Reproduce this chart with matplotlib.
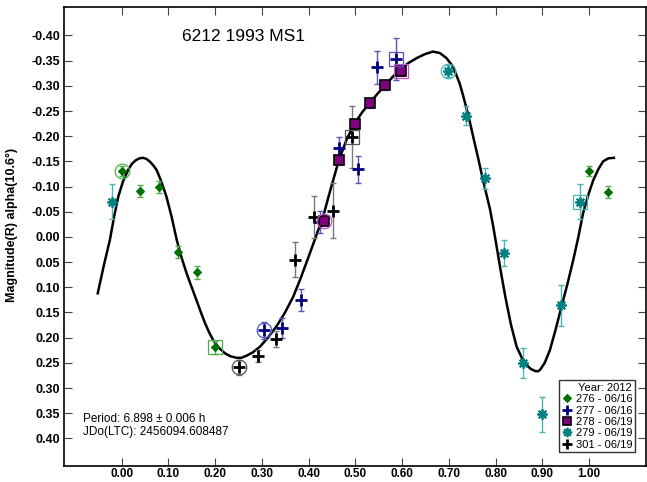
import matplotlib
matplotlib.use("Agg")
import matplotlib.pyplot as plt
from matplotlib.lines import Line2D

plt.rcParams["font.family"] = ["Liberation Sans", "DejaVu Sans"]
plt.rcParams["axes.unicode_minus"] = False

# session 276 - 06/16
x276 = [0.0, 0.04, 0.08, 0.12, 0.161, 0.20, 1.0, 1.04]
y276 = [-0.13, -0.091, -0.10, 0.03, 0.07, 0.219, -0.13, -0.09]
e276 = [0.01, 0.012, 0.012, 0.012, 0.013, 0.013, 0.01, 0.012]

# session 277 - 06/16
x277 = [0.304, 0.343, 0.383, 0.424, 0.465, 0.506, 0.547, 0.588]
y277 = [0.185, 0.180, 0.125, -0.030, -0.176, -0.134, -0.337, -0.353]
e277 = [0.017, 0.02, 0.022, 0.022, 0.022, 0.027, 0.033, 0.041]

# session 278 - 06/19
x278 = [0.433, 0.466, 0.499, 0.531, 0.564, 0.597]
y278 = [-0.032, -0.152, -0.225, -0.265, -0.301, -0.330]
e278 = [0.01, 0.01, 0.01, 0.01, 0.01, 0.01]

# session 279 - 06/19
x279 = [-0.02, 0.698, 0.736, 0.778, 0.818, 0.859, 0.899, 0.939, 0.98]
y279 = [-0.07, -0.33, -0.241, -0.116, 0.032, 0.25, 0.352, 0.136, -0.07]
e279 = [0.035, 0.012, 0.018, 0.02, 0.025, 0.03, 0.035, 0.04, 0.035]

# session 301 - 06/19
x301 = [0.2515, 0.291, 0.331, 0.372, 0.411, 0.4525, 0.492]
y301 = [0.259, 0.236, 0.203, 0.045, -0.040, -0.052, -0.198]
e301 = [0.015, 0.012, 0.016, 0.034, 0.042, 0.055, 0.061]

# fitted curve
curve_x = [-0.051, -0.038, -0.025, -0.016, -0.007, 0.003, 0.014, 0.022, 0.030,
           0.038, 0.046, 0.053, 0.060, 0.067, 0.075, 0.085, 0.096, 0.107,
           0.118, 0.128, 0.139, 0.150, 0.160, 0.169, 0.178, 0.187, 0.196,
           0.208, 0.221, 0.233, 0.246, 0.256, 0.267, 0.281, 0.296, 0.313,
           0.331, 0.349, 0.367, 0.383, 0.399, 0.415, 0.431, 0.448, 0.465,
           0.482, 0.499, 0.515, 0.531, 0.548, 0.565, 0.580, 0.595, 0.613,
           0.631, 0.649, 0.666, 0.681, 0.695, 0.709, 0.723, 0.731, 0.742,
           0.752, 0.763, 0.773, 0.781, 0.788, 0.795, 0.802, 0.811, 0.821,
           0.833, 0.845, 0.856, 0.866, 0.875, 0.884, 0.890, 0.895, 0.905,
           0.916, 0.928, 0.941, 0.954, 0.966, 0.977, 0.987, 0.998, 1.009,
           1.020, 1.030, 1.041, 1.053]
curve_y = [0.112, 0.057, 0.006, -0.040, -0.080, -0.110, -0.133, -0.145, -0.152,
           -0.156, -0.157, -0.155, -0.150, -0.143, -0.133, -0.110, -0.080, -0.040,
           0.006, 0.040, 0.072, 0.100, 0.125, 0.148, 0.170, 0.189, 0.205,
           0.220, 0.231, 0.237, 0.240, 0.240, 0.236, 0.229, 0.218, 0.200,
           0.178, 0.151, 0.119, 0.082, 0.042, 0.001, -0.040, -0.098, -0.153,
           -0.195, -0.226, -0.248, -0.266, -0.285, -0.302, -0.318, -0.332, -0.345,
           -0.355, -0.363, -0.368, -0.365, -0.355, -0.338, -0.305, -0.279, -0.240,
           -0.199, -0.155, -0.113, -0.082, -0.055, -0.020, 0.018, 0.068, 0.120,
           0.175, 0.218, 0.240, 0.254, 0.262, 0.266, 0.267, 0.264, 0.250,
           0.225, 0.185, 0.138, 0.092, 0.046, 0.000, -0.047, -0.083, -0.113,
           -0.135, -0.150, -0.156, -0.157]

x_ticks = [0.0, 0.1, 0.2, 0.3, 0.4, 0.5, 0.6, 0.7, 0.8, 0.9, 1.0]
y_ticks = [-0.40, -0.35, -0.30, -0.25, -0.20, -0.15, -0.10, -0.05,
           0.00, 0.05, 0.10, 0.15, 0.20, 0.25, 0.30, 0.35, 0.40]

# label, x, y, err, marker, size, edge width, face, edge, errcolor, ringcolor, first idx, last idx
sessions = [
    ("276 - 06/16", x276, y276, e276, "D", 4.5, 0.8, "#007000", "#007000", "#4caf4c", "#4caf4c", 0, 5),
    ("277 - 06/16", x277, y277, e277, "+", 8, 2.0, "#000080", "#000080", "#5555bb", "#5555bb", 0, 7),
    ("278 - 06/19", x278, y278, e278, "s", 7, 1.2, "#800080", "#000000", "#cc66cc", "#cc55cc", 0, 5),
    ("279 - 06/19", x279, y279, e279, (8, 2, 0), 7.5, 1.3, "#008080", "#008080", "#4db3b3", "#4db3b3", 1, 8),
    ("301 - 06/19", x301, y301, e301, "+", 8, 2.0, "#000000", "#000000", "#777777", "#555555", 0, 6),
]

fig = plt.figure(figsize=(6.47, 4.82), dpi=100)
ax = fig.add_axes([0.099, 0.033, 0.899, 0.953])

ax.plot(curve_x, curve_y, color="black", lw=1.8, zorder=2)

handles = []
for label, xs, ys, es, mk, ms, mew, fc, ec, erc, rc, i0, i1 in sessions:
    ax.errorbar(xs, ys, yerr=es, fmt="none", ecolor=erc, elinewidth=1,
                capsize=2.5, capthick=1, zorder=3)
    ax.plot(xs, ys, linestyle="none", marker=mk, markersize=ms,
            markerfacecolor=fc, markeredgecolor=ec,
            markeredgewidth=mew, zorder=4)
    # first point of the night circled, last point boxed
    ax.plot(xs[i0], ys[i0], linestyle="none", marker="o", markersize=10.5,
            markerfacecolor="none", markeredgecolor=rc, markeredgewidth=0.9, zorder=5)
    ax.plot(xs[i1], ys[i1], linestyle="none", marker="s", markersize=10,
            markerfacecolor="none", markeredgecolor=rc, markeredgewidth=0.9, zorder=5)
    handles.append(Line2D([], [], linestyle="none", marker=mk, markersize=ms * 0.9,
                          markerfacecolor=fc, markeredgecolor=ec,
                          markeredgewidth=mew, label=label))

ax.set_xlim(-0.123, 1.121)
ax.set_ylim(0.455, -0.457)
ax.set_xticks(x_ticks)
ax.set_yticks(y_ticks)
ax.set_xticklabels([f"{v:.2f}" for v in x_ticks], fontweight="bold", fontsize=8.5)
ax.set_yticklabels([f"{v:.2f}" for v in y_ticks], fontweight="bold", fontsize=9)
ax.tick_params(direction="in", length=6, width=0.8, top=True, right=True,
               color="#444444")
ax.tick_params(axis="x", pad=1.5)
ax.tick_params(axis="y", pad=3)
for s in ax.spines.values():
    s.set_linewidth(1.2)

ax.set_ylabel("Magnitude(R) alpha(10.6°)", fontweight="bold", fontsize=9)
ax.yaxis.set_label_coords(-0.079, 0.525)

ax.text(0.309, 0.935, "6212 1993 MS1", transform=ax.transAxes,
        ha="center", va="center", fontsize=12.5)
ax.text(0.033, 0.088, "Period: 6.898 ± 0.006 h\nJDo(LTC): 2456094.608487",
        transform=ax.transAxes, ha="left", va="center", fontsize=8.5,
        linespacing=1.1)

leg = ax.legend(handles=handles, title="Year: 2012", loc="lower right",
                bbox_to_anchor=(0.9815, 0.03), fontsize=8, title_fontsize=8,
                frameon=True, fancybox=False, borderpad=0.25, labelspacing=0.12,
                handlelength=0.9, handletextpad=0.3, borderaxespad=0)
leg._legend_box.align = "right"
leg.get_frame().set_edgecolor("black")
leg.get_frame().set_linewidth(1.0)

fig.savefig("out.png", dpi=100)
